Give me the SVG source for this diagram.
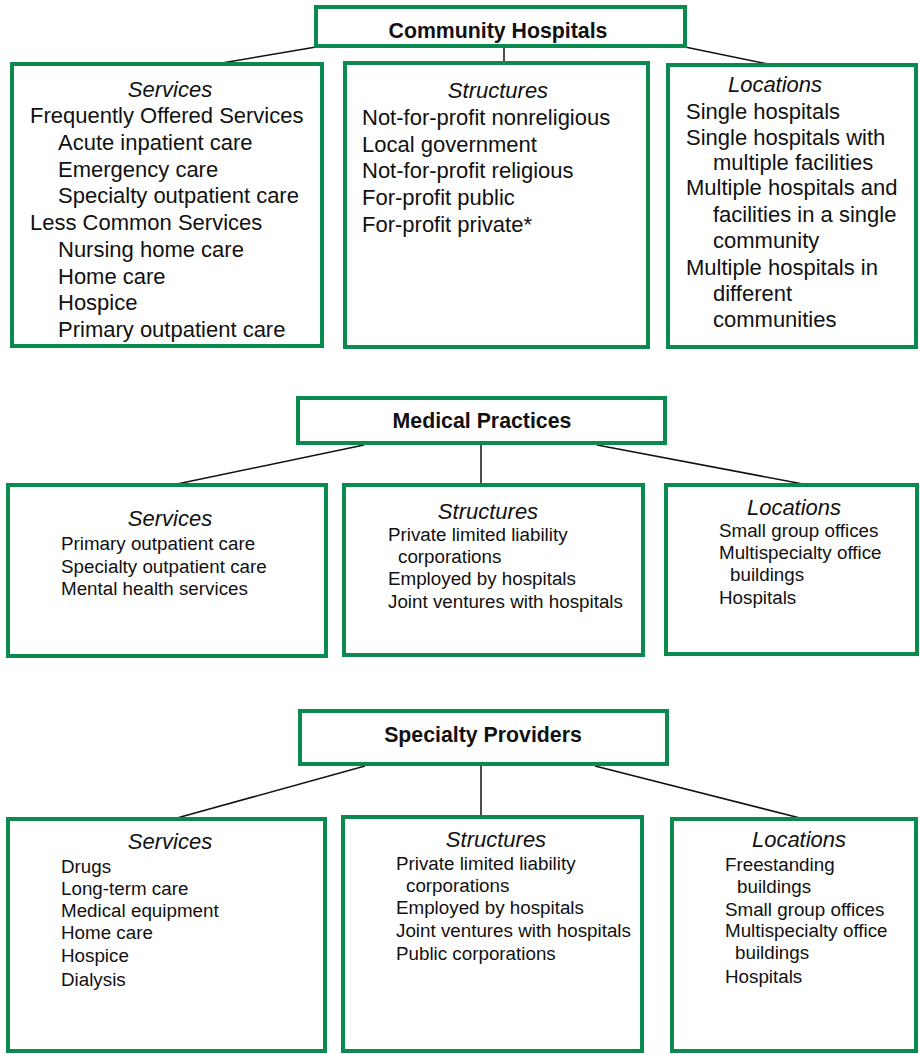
<svg xmlns="http://www.w3.org/2000/svg" width="920" height="1054" viewBox="0 0 920 1054">
<style>
.box{fill:#fff;stroke:#0a8a4f;stroke-width:4}
.con{stroke:#111;stroke-width:1.5;fill:none}
text{font-family:"Liberation Sans",Arial,sans-serif;fill:#111}
.h{font-weight:bold;font-size:21.3px;text-anchor:middle}
.t{font-size:22px}
.m{font-size:18.8px}
.ti{font-style:italic;text-anchor:middle;font-size:22px}
</style>
<rect width="920" height="1054" fill="#fff"/>
<g id="connectors">
<line class="con" x1="316" y1="47" x2="222" y2="63"/>
<line class="con" x1="504" y1="47" x2="504" y2="62"/>
<line class="con" x1="685" y1="47" x2="768" y2="64"/>
<line class="con" x1="364" y1="445" x2="177" y2="484"/>
<line class="con" x1="481" y1="445" x2="481" y2="484"/>
<line class="con" x1="597" y1="445" x2="803" y2="484"/>
<line class="con" x1="365" y1="766" x2="177" y2="818"/>
<line class="con" x1="481" y1="766" x2="481" y2="816"/>
<line class="con" x1="595" y1="766" x2="800" y2="818"/>
</g>
<g id="community-hospitals">
<rect class="box" x="316" y="7" width="369" height="39"/>
<text class="h" x="498" y="38">Community Hospitals</text>
</g>
<g id="ch-services">
<rect class="box" x="12" y="64" width="310" height="282"/>
<text class="ti" x="170" y="97">Services</text>
<g class="t">
<text x="30" y="123">Frequently Offered Services</text>
<text x="58" y="150">Acute inpatient care</text>
<text x="58" y="177">Emergency care</text>
<text x="58" y="203">Specialty outpatient care</text>
<text x="30" y="230">Less Common Services</text>
<text x="58" y="257">Nursing home care</text>
<text x="58" y="284">Home care</text>
<text x="58" y="310">Hospice</text>
<text x="58" y="337">Primary outpatient care</text>
</g>
</g>
<g id="ch-structures">
<rect class="box" x="345" y="63" width="303" height="284"/>
<text class="ti" x="498" y="98">Structures</text>
<g class="t">
<text x="362" y="125">Not-for-profit nonreligious</text>
<text x="362" y="152">Local government</text>
<text x="362" y="178">Not-for-profit religious</text>
<text x="362" y="205">For-profit public</text>
<text x="362" y="232">For-profit private*</text>
</g>
</g>
<g id="ch-locations">
<rect class="box" x="668" y="65" width="248" height="282"/>
<text class="ti" x="775" y="92">Locations</text>
<g class="t">
<text x="686" y="119">Single hospitals</text>
<text x="686" y="145">Single hospitals with</text>
<text x="713" y="170">multiple facilities</text>
<text x="686" y="195">Multiple hospitals and</text>
<text x="713" y="222">facilities in a single</text>
<text x="713" y="248">community</text>
<text x="686" y="275">Multiple hospitals in</text>
<text x="713" y="301">different</text>
<text x="713" y="327">communities</text>
</g>
</g>
<g id="medical-practices">
<rect class="box" x="298" y="398" width="367" height="45"/>
<text class="h" x="482" y="428">Medical Practices</text>
</g>
<g id="mp-services">
<rect class="box" x="8" y="485" width="318" height="171"/>
<text class="ti" x="170" y="526">Services</text>
<g class="m">
<text x="61" y="550">Primary outpatient care</text>
<text x="61" y="573">Specialty outpatient care</text>
<text x="61" y="595">Mental health services</text>
</g>
</g>
<g id="mp-structures">
<rect class="box" x="344" y="485" width="299" height="170"/>
<text class="ti" x="488" y="519">Structures</text>
<g class="m">
<text x="388" y="541">Private limited liability</text>
<text x="398" y="563">corporations</text>
<text x="388" y="585">Employed by hospitals</text>
<text x="388" y="608">Joint ventures with hospitals</text>
</g>
</g>
<g id="mp-locations">
<rect class="box" x="666" y="485" width="251" height="169"/>
<text class="ti" x="794" y="515">Locations</text>
<g class="m">
<text x="719" y="537">Small group offices</text>
<text x="719" y="559">Multispecialty office</text>
<text x="730" y="581">buildings</text>
<text x="719" y="604">Hospitals</text>
</g>
</g>
<g id="specialty-providers">
<rect class="box" x="300" y="711" width="367" height="53"/>
<text class="h" x="483" y="742">Specialty Providers</text>
</g>
<g id="sp-services">
<rect class="box" x="8" y="819" width="317" height="232"/>
<text class="ti" x="170" y="849">Services</text>
<g class="m">
<text x="61" y="873">Drugs</text>
<text x="61" y="895">Long-term care</text>
<text x="61" y="917">Medical equipment</text>
<text x="61" y="939">Home care</text>
<text x="61" y="962">Hospice</text>
<text x="61" y="986">Dialysis</text>
</g>
</g>
<g id="sp-structures">
<rect class="box" x="343" y="817" width="299" height="234"/>
<text class="ti" x="496" y="847">Structures</text>
<g class="m">
<text x="396" y="870">Private limited liability</text>
<text x="406" y="892">corporations</text>
<text x="396" y="914">Employed by hospitals</text>
<text x="396" y="937">Joint ventures with hospitals</text>
<text x="396" y="960">Public corporations</text>
</g>
</g>
<g id="sp-locations">
<rect class="box" x="672" y="819" width="244" height="232"/>
<text class="ti" x="799" y="847">Locations</text>
<g class="m">
<text x="725" y="871">Freestanding</text>
<text x="737" y="893">buildings</text>
<text x="725" y="916">Small group offices</text>
<text x="725" y="937">Multispecialty office</text>
<text x="735" y="959">buildings</text>
<text x="725" y="983">Hospitals</text>
</g>
</g>
</svg>
